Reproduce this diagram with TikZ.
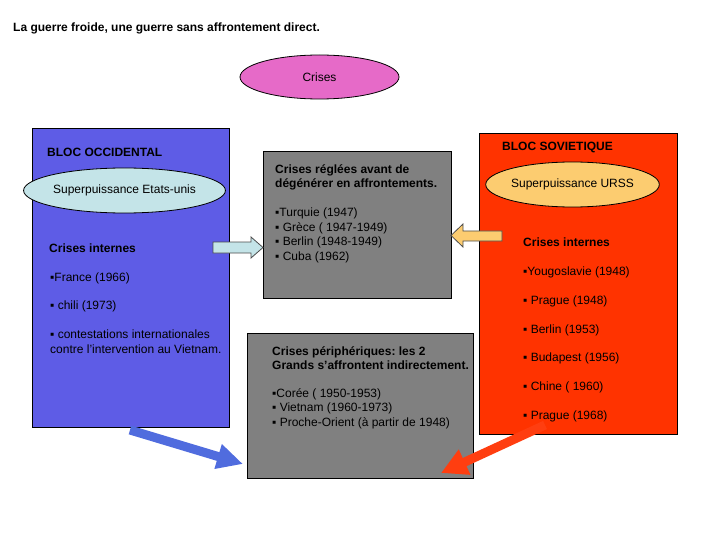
\documentclass[tikz,border=0pt]{standalone}
\usepackage{fontspec}
\setmainfont{Liberation Sans}
\usetikzlibrary{shapes.geometric,arrows.meta}
\frenchspacing
\definecolor{blocblue}{RGB}{94,92,230}
\definecolor{cyanlight}{RGB}{196,228,232}
\definecolor{grisbox}{RGB}{128,128,128}
\definecolor{rouge}{RGB}{255,51,0}
\definecolor{orangelight}{RGB}{252,204,112}
\definecolor{rose}{RGB}{230,106,200}
\definecolor{bigblue}{RGB}{80,108,222}
\definecolor{bigred}{RGB}{255,62,16}
\tikzset{
  box/.style={draw=black,line width=0.8pt},
  ell/.style={ellipse,draw=black,line width=0.8pt,inner sep=0pt,font=\fontsize{12}{14}\selectfont},
  txt/.style={anchor=base west,inner sep=0pt,font=\fontsize{12}{14}\selectfont},
  btxt/.style={anchor=base west,inner sep=0pt,font=\fontsize{12}{14}\selectfont\bfseries},
  blockarrow/.style={line width=0.8pt,line join=miter},
}
\begin{document}
\begin{tikzpicture}[x=1pt,y=-1pt]
\useasboundingbox (0,0) rectangle (720,540);
% title
\node[btxt] (title) at (13,32) {La guerre froide, une guerre sans affrontement direct.};
\node[ell,fill=rose,minimum width=159pt,minimum height=44pt] (crises) at (319.5,77) {Crises};
% boxes
\draw[box,fill=blocblue] (32,128) rectangle (229,427);
\draw[box,fill=grisbox] (263,151) rectangle (451,298);
\draw[box,fill=rouge] (479,133) rectangle (677,434);
\draw[box,fill=grisbox] (247,333) rectangle (473,478);
% left bloc
\node[btxt] (occ) at (47,157) {BLOC OCCIDENTAL};
\node[ell,fill=cyanlight,minimum width=165pt,minimum height=45pt] (usa) at (124.5,190.5) {Superpuissance Etats-unis};
\node[btxt] (ciL) at (49,252) {Crises internes};
\node[txt] (l1) at (50,281) {▪France (1966)};
\node[txt] (l2) at (50,309) {▪ chili (1973)};
\node[txt] (l3) at (50,338) {▪ contestations internationales};
\node[txt] (l4) at (50,353) {contre l'intervention au Vietnam.};
% grey box 1
\node[btxt] (g1a) at (275,174) {Crises réglées avant de};
\node[btxt] (g1b) at (275,188) {dégénérer en affrontements.};
\node[txt] (g1c) at (275,216) {▪Turquie (1947)};
\node[txt] (g1d) at (275,231) {▪ Grèce ( 1947-1949)};
\node[txt] (g1e) at (275,245) {▪ Berlin (1948-1949)};
\node[txt] (g1f) at (275,260) {▪ Cuba (1962)};
% right bloc
\node[btxt] (sov) at (502,151) {BLOC SOVIETIQUE};
\node[ell,fill=orangelight,minimum width=165pt,minimum height=45pt] (urss) at (572.5,184.5) {Superpuissance URSS};
\node[btxt] (ciR) at (523,247) {Crises internes};
\node[txt] (r1) at (523,275) {▪Yougoslavie (1948)};
\node[txt] (r2) at (523,304) {▪ Prague (1948)};
\node[txt] (r3) at (523,333) {▪ Berlin (1953)};
\node[txt] (r4) at (523,361) {▪ Budapest (1956)};
\node[txt] (r5) at (523,390) {▪ Chine ( 1960)};
\node[txt] (r6) at (523,419) {▪ Prague (1968)};
% grey box 2
\node[btxt] (g2a) at (272,355) {Crises périphériques: les 2};
\node[btxt] (g2b) at (272,369) {Grands s’affrontent indirectement.};
\node[txt] (g2c) at (272,397) {▪Corée ( 1950-1953)};
\node[txt] (g2d) at (272,411) {▪ Vietnam (1960-1973)};
\node[txt] (g2e) at (272,426) {▪ Proche-Orient (à partir de 1948)};
% block arrows
\draw[blockarrow,draw=black!70,fill=cyanlight] (213,242) -- (251,242) -- (251,237) -- (263,247.5) -- (251,258) -- (251,253) -- (213,253) -- cycle;
\draw[blockarrow,draw=black!70,fill=orangelight] (502,231) -- (463,231) -- (463,224) -- (451,235.5) -- (463,247) -- (463,241) -- (502,241) -- cycle;
% thick arrows
\coordinate (bA) at (130,430);
\coordinate (bB) at (243,464);
\coordinate (rA) at (545,425);
\coordinate (rB) at (441,473);
\draw[bigblue,line width=9pt,-{Triangle[width=24pt,length=26pt]}] (bA) -- (bB);
\draw[bigred,line width=9pt,-{Triangle[width=26pt,length=26pt]}] (rA) -- (rB);
\end{tikzpicture}
\end{document}
